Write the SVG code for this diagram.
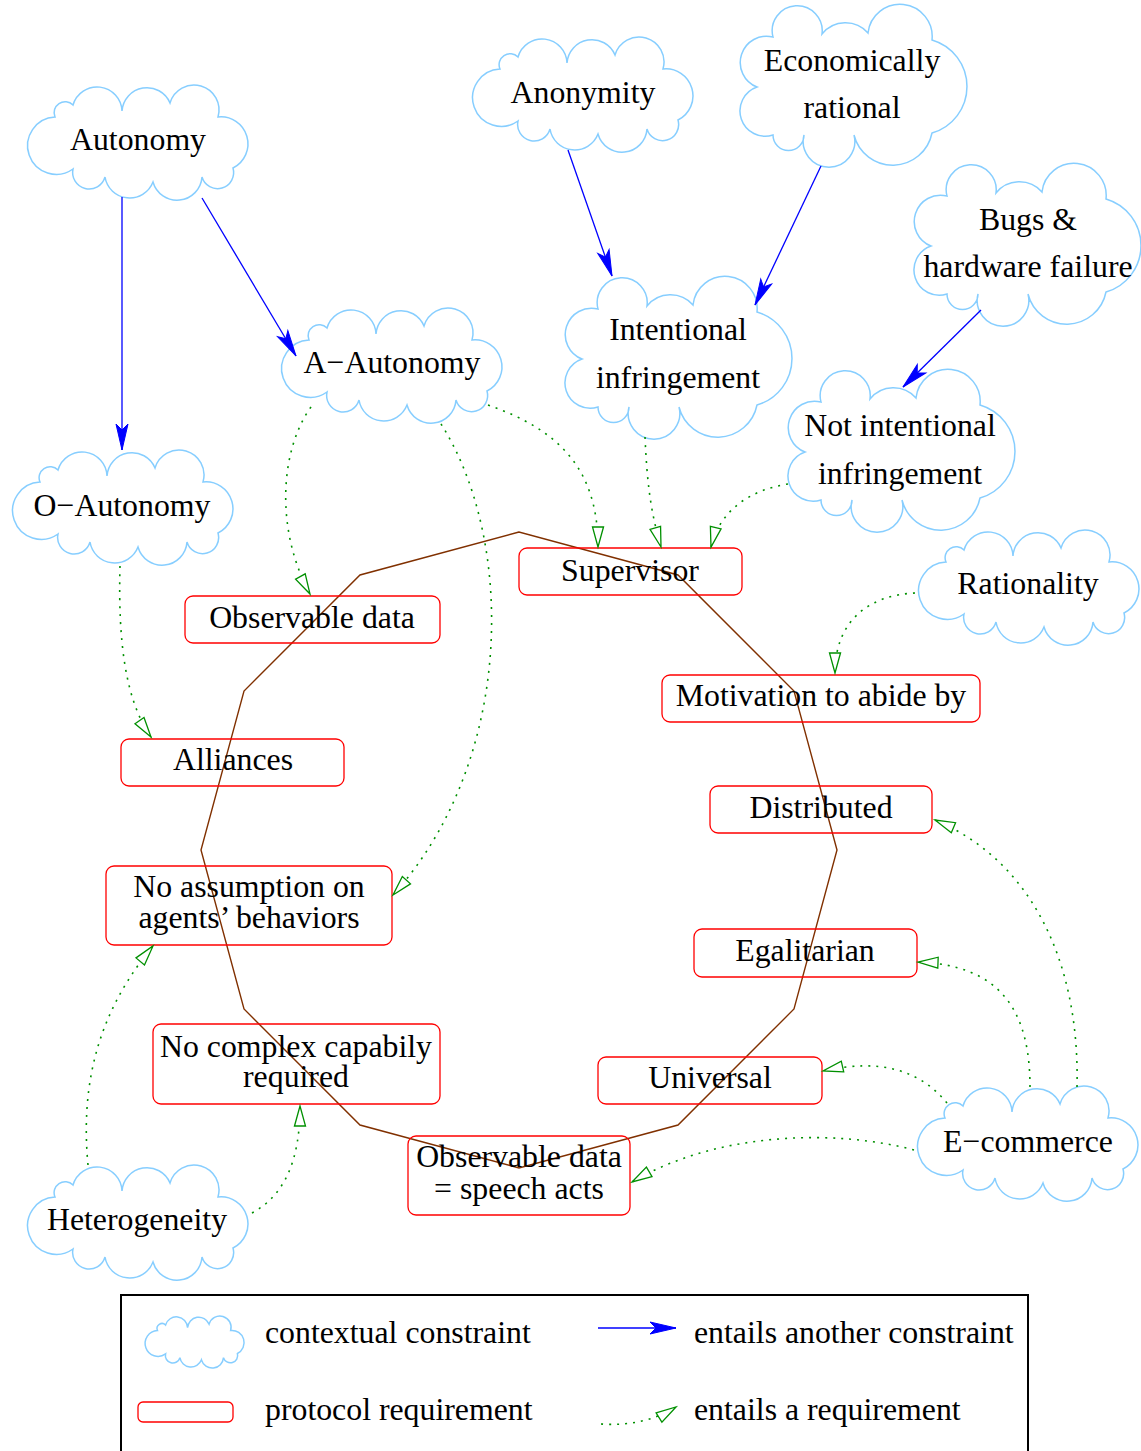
<svg xmlns="http://www.w3.org/2000/svg" xmlns:xlink="http://www.w3.org/1999/xlink" width="1141" height="1451" viewBox="0 0 1141 1451">
<style>
text{font-family:"Liberation Serif","Times New Roman",serif;font-size:31.8px;fill:#000;text-anchor:middle}
.lt{text-anchor:start}
.cloud{fill:none;stroke:#87ceff;stroke-width:1.5}
.box{fill:none;stroke:#ff0000;stroke-width:1.3}
.blue{fill:none;stroke:#0000ff;stroke-width:1.3;marker-end:url(#ah)}
.green{fill:none;stroke:#009000;stroke-width:1.6;stroke-dasharray:2 6;marker-end:url(#tri)}
</style>
<defs>
<marker id="ah" markerUnits="userSpaceOnUse" markerWidth="30" markerHeight="16" refX="26" refY="6" orient="auto" overflow="visible">
<path d="M0,0 L26,6 L0,12 L6,6 Z" fill="#0000ff" stroke="#0000ff" stroke-width="1"/>
</marker>
<marker id="tri" markerUnits="userSpaceOnUse" markerWidth="22" markerHeight="14" refX="20" refY="5.5" orient="auto" overflow="visible">
<path d="M0,0 L20,5.5 L0,11 Z" fill="#fff" stroke="#009000" stroke-width="1.3"/>
</marker>
<path id="cs" d="M30,32 A11,11 0 0 1 48,20 A25,25 0 0 1 97,26 A25,25 0 0 1 145,18 A25,25 0 0 1 193,32 A27,27 0 0 1 208,83 A16,16 0 0 1 177,92 A25,25 0 0 1 128,97 A25,25 0 0 1 80,92 A16.5,16.5 0 0 1 48,84 A28.7,28.7 0 1 1 30,32 Z"/>
<path id="ct" d="M33,32 A25,25 0 1 1 82,29 A30,30 0 0 1 128,28 A32,32 0 0 1 192,35 A48.4,48.4 0 0 1 192,128 A40,40 0 0 1 114,130 A25.8,25.8 0 1 1 64,130 A15.5,15.5 0 0 1 33,130 A25.3,25.3 0 0 1 17,82 A26.3,26.3 0 0 1 33,32 Z"/>
</defs>
<rect width="1141" height="1451" fill="#fff"/>

<g id="cycle">
<polygon points="519,532 360,575 244,691 201,850 244,1009 360,1125 519,1168 678,1125 794,1009 837,850 794,691 678,575" fill="none" stroke="#803000" stroke-width="1.4"/>
</g>

<g id="autonomy"><use xlink:href="#cs" class="cloud" transform="translate(25,85)"/><text x="138" y="150">Autonomy</text></g>
<g id="anonymity"><use xlink:href="#cs" class="cloud" transform="translate(470,37)"/><text x="583" y="103">Anonymity</text></g>
<g id="a-autonomy"><use xlink:href="#cs" class="cloud" transform="translate(279,308)"/><text x="392" y="373">A−Autonomy</text></g>
<g id="o-autonomy"><use xlink:href="#cs" class="cloud" transform="translate(10,450)"/><text x="122" y="516">O−Autonomy</text></g>
<g id="rationality"><use xlink:href="#cs" class="cloud" transform="translate(916,530)"/><text x="1028" y="594">Rationality</text></g>
<g id="e-commerce"><use xlink:href="#cs" class="cloud" transform="translate(915,1086)"/><text x="1028" y="1152">E−commerce</text></g>
<g id="heterogeneity"><use xlink:href="#cs" class="cloud" transform="translate(25,1165)"/><text x="137" y="1230">Heterogeneity</text></g>
<g id="economically-rational"><use xlink:href="#ct" class="cloud" transform="translate(740,5)"/><text x="852" y="71">Economically</text><text x="852" y="118">rational</text></g>
<g id="intentional-infringement"><use xlink:href="#ct" class="cloud" transform="translate(565,277)"/><text x="678" y="340">Intentional</text><text x="678" y="388">infringement</text></g>
<g id="bugs"><use xlink:href="#ct" class="cloud" transform="translate(914,164)"/><text x="1028" y="230">Bugs &amp;</text><text x="1028" y="277">hardware failure</text></g>
<g id="not-intentional-infringement"><use xlink:href="#ct" class="cloud" transform="translate(788,370)"/><text x="900" y="436">Not intentional</text><text x="900" y="484">infringement</text></g>

<g id="supervisor"><rect class="box" x="519" y="548" width="223" height="47" rx="8"/><text x="630" y="581">Supervisor</text></g>
<g id="observable-data"><rect class="box" x="185" y="596" width="255" height="47" rx="8"/><text x="312" y="628">Observable data</text></g>
<g id="motivation"><rect class="box" x="662" y="675" width="318" height="47" rx="8"/><text x="821" y="706">Motivation to abide by</text></g>
<g id="alliances"><rect class="box" x="121" y="739" width="223" height="47" rx="8"/><text x="233" y="770">Alliances</text></g>
<g id="distributed"><rect class="box" x="710" y="786" width="222" height="47" rx="8"/><text x="821" y="818">Distributed</text></g>
<g id="no-assumption"><rect class="box" x="106" y="866" width="286" height="79" rx="8"/><text x="249" y="897">No assumption on</text><text x="249" y="928">agents’ behaviors</text></g>
<g id="egalitarian"><rect class="box" x="694" y="929" width="223" height="48" rx="8"/><text x="805" y="961">Egalitarian</text></g>
<g id="no-complex"><rect class="box" x="153" y="1024" width="287" height="80" rx="8"/><text x="296" y="1057">No complex capabily</text><text x="296" y="1087">required</text></g>
<g id="universal"><rect class="box" x="598" y="1057" width="224" height="47" rx="8"/><text x="710" y="1088">Universal</text></g>
<g id="speech-acts"><rect class="box" x="408" y="1136" width="222" height="79" rx="8"/><text x="519" y="1167">Observable data</text><text x="519" y="1199">= speech acts</text></g>

<g id="connectors">
<path class="blue" d="M122,197 L122,450"/>
<path class="blue" d="M202,198 L296,356"/>
<path class="blue" d="M568,150 L612,276"/>
<path class="blue" d="M821,166 L755,305"/>
<path class="blue" d="M981,310 L903,387"/>
<path class="green" d="M311,407 C280,450 275,530 310,594"/>
<path class="green" d="M441,424 C515,540 515,760 393,895"/>
<path class="green" d="M488,405 C560,430 598,470 598,547"/>
<path class="green" d="M645,437 C647,480 650,510 661,547"/>
<path class="green" d="M788,484 C750,490 720,510 711,547"/>
<path class="green" d="M915,593 C870,595 835,620 835,673"/>
<path class="green" d="M120,566 C118,640 125,700 151,737"/>
<path class="green" d="M1077,1087 C1080,960 1030,860 935,820"/>
<path class="green" d="M1030,1087 C1030,1010 1000,965 918,962"/>
<path class="green" d="M947,1103 C920,1070 880,1058 823,1071"/>
<path class="green" d="M914,1150 C840,1130 720,1130 632,1182"/>
<path class="green" d="M88,1165 C80,1080 100,1010 153,946"/>
<path class="green" d="M252,1213 C285,1195 300,1160 300,1106"/>
</g>

<g id="legend">
<rect x="121" y="1295" width="907" height="180" fill="none" stroke="#000" stroke-width="2"/>
<use xlink:href="#cs" class="cloud" transform="translate(144,1316) scale(0.449,0.452)" style="stroke-width:3.3"/>
<text class="lt" x="265" y="1343">contextual constraint</text>
<rect class="box" x="138" y="1402" width="95" height="20" rx="5"/>
<text class="lt" x="265" y="1420">protocol requirement</text>
<path class="blue" d="M598,1328 L676,1328"/>
<text class="lt" x="694" y="1343">entails another constraint</text>
<path class="green" d="M601,1424 C630,1426 655,1420 676,1407"/>
<text class="lt" x="694" y="1420">entails a requirement</text>
</g>
</svg>
